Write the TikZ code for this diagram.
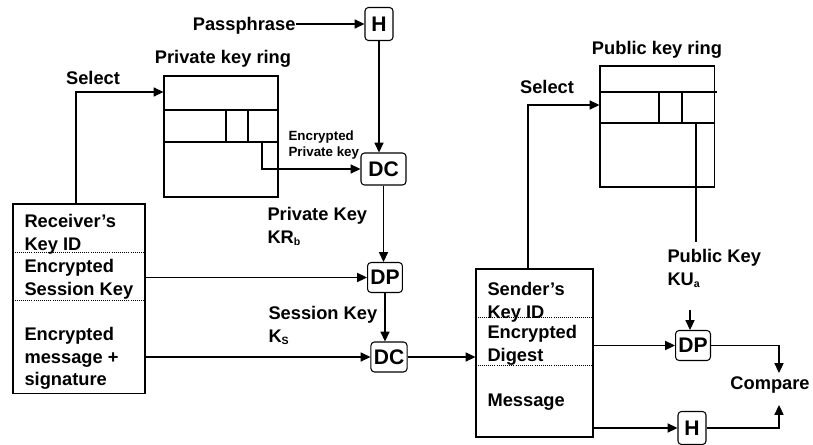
\documentclass[tikz,border=0pt]{standalone}
\usepackage{fontspec}
\setmainfont{Liberation Sans}
\usetikzlibrary{arrows.meta}
\newcommand\keysub[1]{\textsubscript{\fontsize{7.5}{8}\selectfont #1}}
\tikzset{
  lbl/.style={font=\fontsize{13}{16}\selectfont\bfseries, inner sep=0pt, align=left},
  small/.style={font=\fontsize{9.5}{11.5}\selectfont\bfseries, inner sep=0pt, align=left},
  op/.style={draw, rounded corners=2.5pt, inner sep=2pt, minimum width=0.7cm, minimum height=0.75cm, font=\fontsize{15}{16}\selectfont\bfseries},
  ring/.style={draw, minimum width=2.85cm, minimum height=3.025cm},
  msg/.style={draw},
  sep/.style={densely dotted, line width=0.5pt},
  arr/.style={-{Triangle[length=7pt,width=6.5pt]}},
}
\begin{document}
\begin{tikzpicture}[x=0.025cm, y=-0.025cm, line width=0.75pt]
    \useasboundingbox (0,0) rectangle (813,445);
    %% Incoming message
    \node[msg, minimum width=3.3cm, minimum height=4.725cm] (recv) at (79,298.5) {};
    \draw[sep] (recv.west |- 0,252) -- (recv.east |- 0,252);
    \draw[sep] (recv.west |- 0,300) -- (recv.east |- 0,300);
    \node[lbl, anchor=north west] (recvid) at (24,214) {Receiver’s\\Key ID};
    \node[lbl, anchor=north west] (recvsk) at (24,259) {Encrypted\\Session Key};
    \node[lbl, anchor=north west] (recvmsg) at (24,327) {Encrypted\\message +\\signature};
    %% Private key ring
    \node[lbl, anchor=base] (privlbl) at (223,64) {Private key ring};
    \node[ring] (privring) at (221,136.5) {};
    \draw (privring.west |- 0,110) -- (privring.east |- 0,110);
    \draw (privring.west |- 0,142) -- (privring.east |- 0,142);
    \draw (226,110) -- (226,142) (248,110) -- (248,142);
    \node[lbl, anchor=base] (sel1) at (93,85) {Select};
    \coordinate (selbend1) at (76,92);
    \draw[arr] (recv.north -| selbend1) |- (privring.west |- selbend1);
    %% Passphrase and private key
    \node[op, minimum height=0.825cm] (h1) at (379,24) {H};
    \node[lbl, anchor=base east] (pass) at (296,31) {Passphrase};
    \draw[arr] (pass.east |- h1) -- (h1);
    \node[op, minimum width=1.125cm, minimum height=0.8cm] (dc1) at (383.5,169) {DC};
    \draw[arr] (h1) -- (h1 |- dc1.north);
    \node[small, anchor=north west] (epklbl) at (288,130) {Encrypted\\Private key};
    \coordinate (epk) at (262,142);
    \draw[arr] (epk) |- (dc1);
    \node[lbl, anchor=north west] (prkey) at (267,207) {Private Key\\KR\keysub{b}};
    %% Session key and message
    \node[op] (dp1) at (385,277.5) {DP};
    \draw[arr] (dc1.south) -- (dc1.south |- dp1.north);
    \draw[arr] (recv.east |- dp1) -- (dp1);
    \node[lbl, anchor=north west] (sesskey) at (268,306) {Session Key\\K\keysub{S}};
    \node[op] (dc2) at (389,357) {DC};
    \draw[arr] (dp1.south) -- (dp1.south |- dc2.north);
    \draw[arr] (recv.east |- dc2) -- (dc2);
    %% Decrypted message
    \node[msg, minimum width=2.925cm, minimum height=4.2cm] (send) at (534.5,353) {};
    \draw[sep] (send.west |- 0,317) -- (send.east |- 0,317);
    \draw[sep] (send.west |- 0,365) -- (send.east |- 0,365);
    \node[lbl, anchor=north west] (sendid) at (487,282) {Sender’s\\Key ID};
    \node[lbl, anchor=north west] (senddig) at (487,325) {Encrypted\\Digest};
    \node[lbl, anchor=north west] (sendmsg) at (487,393) {Message};
    \draw[arr] (dc2) -- (send.west |- dc2);
    %% Public key ring
    \node[lbl, anchor=base] (publbl) at (657,55) {Public key ring};
    \node[ring] (pubring) at (657,126.5) {};
    \draw (pubring.west |- 0,92) -- (717,92);
    \draw (pubring.west |- 0,123) -- (pubring.east |- 0,123);
    \draw (659,92) -- (659,123) (682,92) -- (682,123);
    \node[lbl, anchor=base] (sel2) at (547,94) {Select};
    \coordinate (selbend2) at (528,105);
    \draw[arr] (send.north -| selbend2) |- (pubring.west |- selbend2);
    \coordinate (pkout) at (696,123);
    \coordinate (pkend) at (696,242);
    \draw (pkout) -- (pkend);
    \node[lbl, anchor=north west] (pubkey) at (667,249) {Public Key\\KU\keysub{a}};
    %% Signature check
    \node[op] (dp2) at (693,345.5) {DP};
    \coordinate (pkin) at (690,310);
    \draw[arr] (pkin) -- (pkin |- dp2.north);
    \draw[arr] (send.east |- dp2) -- (dp2);
    \node[op, minimum height=0.825cm] (h2) at (692,428) {H};
    \draw[arr] (send.east |- h2) -- (h2);
    \node[lbl, anchor=base] (cmp) at (770,389) {Compare};
    \coordinate (cmptop) at (779,373);
    \coordinate (cmpbot) at (779,405);
    \draw[arr] (dp2) -| (cmptop);
    \draw[arr] (h2) -| (cmpbot);
\end{tikzpicture}
\end{document}
